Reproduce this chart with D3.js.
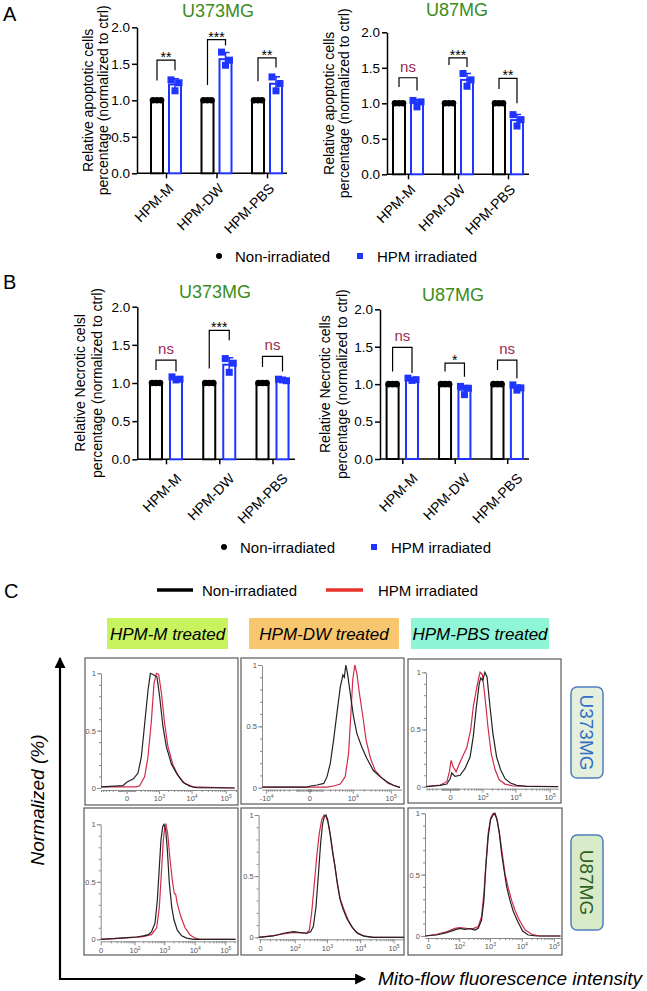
<!DOCTYPE html>
<html>
<head>
<meta charset="utf-8">
<script src="https://cdn.jsdelivr.net/npm/d3@7"></script>
<style>
  body { margin: 0; background: #fff; }
  svg { display: block; font-family: "Liberation Sans", Arial, Helvetica, sans-serif; }
</style>
</head>
<body>
<svg id="chart" width="647" height="991"></svg>
<script>
// ---- bar chart data (panels A and B) ----
const groups = ['HPM-M', 'HPM-DW', 'HPM-PBS'];
const barTicks = [0, 0.5, 1.0, 1.5, 2.0];

const ctrlPoints = [[1, 1, 1], [1, 1, 1], [1, 1, 1]];

const apoU373Hpm = [[1.28, 1.24, 1.13], [1.66, 1.55, 1.48], [1.32, 1.23, 1.13]];
const apoU373Sig = ['**', '***', '**'];
const apoU373Bracket = [[1.27, 1.55, 1.41], [1.21, 1.83, 1.75], [1.26, 1.58, 1.45]]; // left end, top, right end

const apoU87Hpm = [[1.04, 1.02, 0.95], [1.42, 1.33, 1.24], [0.84, 0.77, 0.68]];
const apoU87Sig = ['ns', '***', '**'];
const apoU87Bracket = [[1.23, 1.36, 1.18], [1.54, 1.64, 1.51], [1.20, 1.35, 1.00]];

const necU373Hpm = [[1.08, 1.05, 1.04], [1.32, 1.26, 1.14], [1.05, 1.03, 1.04]];
const necU373Sig = ['ns', '***', 'ns'];
const necU373Bracket = [[1.17, 1.30, 1.15], [1.19, 1.69, 1.56], [1.21, 1.35, 1.15]];

const necU87Hpm = [[1.08, 1.06, 1.05], [0.97, 0.945, 0.86], [0.99, 0.95, 0.92]];
const necU87Sig = ['ns', '*', 'ns'];
const necU87Bracket = [[1.17, 1.49, 1.15], [1.17, 1.28, 1.10], [1.19, 1.32, 1.08]];

// ---- flow histograms (panel C): [intensity, normalized count] ----
const treatments = ['HPM-M treated', 'HPM-DW treated', 'HPM-PBS treated'];
const cellLines = ['U373MG', 'U87MG'];
const ticksRow1 = [[0, 1e3, 1e4, 1e5], [-1e4, 0, 1e4, 1e5], [0, 1e3, 1e4, 1e5]];
const ticksRow2 = [0, 1e2, 1e3, 1e4, 1e5];

const u373M_ctrl = [[-580,0.01],[-37,0.02],[0,0.05],[74,0.08],[148,0.13],[217,0.27],[305,0.56],[413,0.85],[507,1.0],[633,0.99],[722,0.98],[858,0.97],[1055,0.80],[1363,0.53],[1730,0.36],[2480,0.21],[3540,0.13],[5570,0.05],[8800,0.015],[13900,0.003],[183000,0]];
const u373M_hpm = [[-580,0.01],[119,0.01],[181,0.02],[305,0.10],[413,0.27],[554,0.59],[683,0.91],[823,1.0],[985,0.99],[1206,0.83],[1535,0.56],[1945,0.36],[2780,0.20],[3930,0.11],[6230,0.04],[11000,0.01],[183000,0]];
const u373DW_ctrl = [[-12700,0.005],[-123,0.005],[51,0.014],[483,0.022],[1125,0.035],[1543,0.09],[2055,0.20],[2670,0.39],[3440,0.61],[4360,0.82],[5240,0.92],[5750,0.90],[6380,1.0],[7140,0.93],[8500,0.77],[10500,0.58],[13000,0.44],[17700,0.33],[23900,0.24],[35700,0.14],[53000,0.09],[78800,0.05],[116000,0.02],[173000,0.003]];
const u373DW_hpm = [[-12700,0.005],[1543,0.005],[2670,0.014],[4360,0.03],[6120,0.09],[7630,0.28],[8900,0.61],[10000,0.88],[11400,1.0],[13000,0.93],[15200,0.77],[18800,0.58],[22900,0.39],[29300,0.25],[39500,0.14],[58700,0.08],[87100,0.035],[129000,0.016],[173000,0.003]];
const u373PBS_ctrl = [[-514,0],[-123,0.012],[-32,0.023],[0,0.07],[15,0.12],[51,0.09],[123,0.10],[223,0.16],[363,0.26],[481,0.44],[623,0.70],[777,0.90],[874,0.95],[1015,0.93],[1196,1.0],[1400,0.96],[1690,0.73],[2120,0.47],[2760,0.26],[3630,0.15],[4960,0.07],[6970,0.035],[10900,0.012],[21500,0.003],[177600,0]];
const u373PBS_hpm = [[-514,0],[-123,0.015],[-32,0.044],[-6,0.13],[9,0.23],[32,0.17],[64,0.13],[111,0.20],[186,0.28],[265,0.34],[385,0.50],[481,0.70],[592,0.82],[717,0.93],[831,1.0],[990,0.98],[1196,0.79],[1500,0.52],[1892,0.29],[2480,0.15],[3320,0.06],[4960,0.023],[8700,0.006],[177600,0]];
const u87M_ctrl = [[0,0],[13.5,0.006],[51,0.015],[119,0.02],[200,0.03],[297,0.04],[383,0.067],[496,0.14],[593,0.34],[691,0.63],[780,0.86],[889,0.98],[984,1.0],[1122,0.95],[1267,0.78],[1470,0.49],[1768,0.28],[2091,0.17],[2686,0.08],[3740,0.03],[5480,0.01],[8950,0],[218000,0]];
const u87M_hpm = [[0,0],[51,0.012],[200,0.023],[383,0.043],[564,0.10],[691,0.28],[804,0.57],[935,0.86],[1056,0.99],[1144,1.0],[1300,0.92],[1547,0.70],[1836,0.52],[2134,0.40],[2380,0.39],[2686,0.31],[3485,0.20],[4810,0.10],[6970,0.04],[10200,0.01],[14900,0],[218000,0]];
const u87DW_ctrl = [[-1,0],[15,0.011],[40,0.033],[90,0.046],[148,0.038],[240,0.033],[318,0.046],[386,0.087],[465,0.25],[547,0.50],[644,0.77],[740,0.93],[838,0.99],[936,1.0],[1057,0.96],[1240,0.85],[1490,0.69],[1750,0.58],[2050,0.44],[2480,0.31],[2980,0.24],[3940,0.155],[5550,0.087],[7870,0.038],[12400,0.011],[24600,0],[205000,0]];
const u87DW_hpm = [[-1,0],[15,0.014],[40,0.027],[90,0.041],[148,0.038],[240,0.035],[290,0.06],[342,0.20],[414,0.44],[489,0.66],[587,0.85],[690,0.96],[813,1.0],[936,0.99],[1100,0.93],[1300,0.82],[1560,0.67],[1970,0.48],[2480,0.32],[3130,0.24],[4400,0.14],[6190,0.07],[8800,0.03],[13900,0.008],[24600,0],[205000,0]];
const u87PBS_ctrl = [[-3,0],[10,0.008],[33,0.027],[70,0.05],[105,0.062],[156,0.054],[229,0.060],[334,0.049],[427,0.062],[546,0.13],[648,0.29],[749,0.57],[888,0.81],[1056,0.95],[1282,0.99],[1446,1.0],[1632,0.96],[1980,0.84],[2340,0.67],[2784,0.54],[3372,0.40],[4284,0.29],[5436,0.20],[7428,0.12],[10656,0.04],[15912,0.008],[29280,0],[164000,0]];
const u87PBS_hpm = [[-3,0],[10,0.014],[33,0.035],[70,0.062],[105,0.068],[178,0.062],[294,0.060],[427,0.076],[546,0.16],[648,0.35],[749,0.59],[888,0.84],[1056,0.96],[1282,1.0],[1520,0.98],[1752,0.93],[2076,0.81],[2520,0.65],[2988,0.51],[3792,0.39],[4824,0.29],[6144,0.21],[8376,0.13],[12636,0.05],[20424,0.014],[37200,0],[164000,0]];

// ---- styles ----
const BLUE = '#1f35ff';
const GREEN = '#3a8c1c';
const NS_COL = '#9a2a4e';
const RED = '#d42a4a';

const svg = d3.select('#chart');

function label(x, y, s, o = {}) {
  return svg.append('text')
    .attr('x', x).attr('y', y)
    .attr('font-size', o.size || 13)
    .attr('fill', o.fill || '#000')
    .attr('text-anchor', o.anchor || 'start')
    .attr('font-style', o.italic ? 'italic' : null)
    .text(s);
}

// panel letters
label(3, 21, 'A', { size: 20 });
label(3, 289, 'B', { size: 20 });
label(4, 598, 'C', { size: 20 });

// ---- bar charts ----
const barCharts = [
  { title: 'U373MG', tx: 218, ty: 17, ax: 137, ae: 287, yt: 27.3, yb: 173.3, c: [166, 267], off: 9,
    hpm: apoU373Hpm, sig: apoU373Sig, br: apoU373Bracket,
    ylab: ['Relative apoptotic cells', 'percentage (normalized to ctrl)'], lx: [88, 103], lab: [1, 9] },
  { title: 'U87MG', tx: 457, ty: 15.5, ax: 387, ae: 529, yt: 32.3, yb: 174.3, c: [408, 508], off: 9,
    hpm: apoU87Hpm, sig: apoU87Sig, br: apoU87Bracket,
    ylab: ['Relative apoptotic cells', 'percentage (normalized to ctrl)'], lx: [329, 344], lab: [1, 9] },
  { title: 'U373MG', tx: 215, ty: 298, ax: 137.3, ae: 295, yt: 306.7, yb: 459.3, c: [166, 272.5], off: 10,
    hpm: necU373Hpm, sig: necU373Sig, br: necU373Bracket,
    ylab: ['Relative Necrotic celsl', 'percentage (normalized to ctrl)'], lx: [80, 97], lab: [9, 13] },
  { title: 'U87MG', tx: 453, ty: 301, ax: 380, ae: 529, yt: 309.3, yb: 459, c: [402.3, 507.2], off: 9.7,
    hpm: necU87Hpm, sig: necU87Sig, br: necU87Bracket,
    ylab: ['Relative Necrotic cells', 'percentage (normalized to ctrl)'], lx: [325, 342], lab: [9, 13] }
];

const bw = 12;

barCharts.forEach(cfg => {
  const y = d3.scaleLinear().domain([0, 2]).range([cfg.yb, cfg.yt]);
  const x = d3.scalePoint().domain(groups).range(cfg.c);
  const g = svg.append('g');

  label(cfg.tx, cfg.ty, cfg.title, { size: 18, fill: GREEN, anchor: 'middle' });

  // y axis
  g.append('g')
    .attr('transform', `translate(${cfg.ax},0)`)
    .call(d3.axisLeft(y).tickValues(barTicks).tickFormat(d3.format('.1f'))
      .tickSize(5).tickSizeOuter(0).tickPadding(2))
    .call(a => a.selectAll('text').attr('font-size', 13.5).attr('fill', '#000').attr('font-family', null))
    .call(a => a.selectAll('line, path').attr('stroke', '#000').attr('stroke-width', 1.5));

  // x axis (ticks only, baseline drawn by hand to match the axis extent)
  const xa = g.append('g')
    .attr('transform', `translate(0,${cfg.yb})`)
    .call(d3.axisBottom(x).tickSize(5).tickSizeOuter(0).tickFormat(''));
  xa.select('.domain').remove();
  xa.selectAll('line').attr('stroke', '#000').attr('stroke-width', 1.5);
  g.append('line')
    .attr('x1', cfg.ax).attr('x2', cfg.ae).attr('y1', cfg.yb).attr('y2', cfg.yb)
    .attr('stroke', '#000').attr('stroke-width', 1.5);

  g.selectAll('.xlab').data(groups).join('text')
    .attr('class', 'xlab')
    .attr('transform', d => `translate(${x(d) + cfg.lab[0]},${cfg.yb + cfg.lab[1]}) rotate(-45)`)
    .attr('text-anchor', 'end').attr('dy', '0.72em')
    .attr('font-size', 14)
    .text(d => d);

  // y label
  const ym = (cfg.yt + cfg.yb) / 2;
  cfg.ylab.forEach((t, i) => {
    g.append('text')
      .attr('transform', `translate(${cfg.lx[i]},${ym}) rotate(-90)`)
      .attr('text-anchor', 'middle').attr('dy', '0.35em')
      .attr('font-size', 14)
      .text(t);
  });

  // bars
  groups.forEach((grp, i) => {
    const cx0 = x(grp) - cfg.off;
    const cx1 = x(grp) + cfg.off;
    const m0 = d3.mean(ctrlPoints[i]);
    const m1 = d3.mean(cfg.hpm[i]);
    const sd1 = d3.deviation(cfg.hpm[i]);

    g.append('rect')
      .attr('x', cx0 - bw / 2).attr('y', y(m0))
      .attr('width', bw).attr('height', y(0) - y(m0))
      .attr('fill', '#fff').attr('stroke', '#000').attr('stroke-width', 2);
    g.append('rect')
      .attr('x', cx1 - bw / 2).attr('y', y(m1))
      .attr('width', bw).attr('height', y(0) - y(m1))
      .attr('fill', '#fff').attr('stroke', BLUE).attr('stroke-width', 2);

    // SD error bar
    g.append('path')
      .attr('d', `M${cx1},${y(m1 - sd1)}V${y(m1 + sd1)}M${cx1 - 4},${y(m1 + sd1)}H${cx1 + 4}`)
      .attr('stroke', BLUE).attr('stroke-width', 1.5).attr('fill', 'none');

    // points
    const dotOff = [-4, 0, 4];
    g.selectAll(null).data(ctrlPoints[i]).join('circle')
      .attr('cx', (d, k) => cx0 + dotOff[k]).attr('cy', d => y(d))
      .attr('r', 3.3).attr('fill', '#000');
    const sqOff = [-4, 4, 0];
    g.selectAll(null).data(cfg.hpm[i]).join('rect')
      .attr('x', (d, k) => cx1 + sqOff[k] - 3.5).attr('y', d => y(d) - 3.5)
      .attr('width', 7).attr('height', 7).attr('fill', BLUE);

    // significance bracket
    const [l, top, r] = cfg.br[i];
    g.append('path')
      .attr('d', `M${cx0},${y(l)}V${y(top)}H${cx1}V${y(r)}`)
      .attr('fill', 'none').attr('stroke', '#000').attr('stroke-width', 1.2);
    const s = cfg.sig[i];
    if (s === 'ns') {
      label(x(grp), y(top) - 6, s, { size: 15, fill: NS_COL, anchor: 'middle' });
    } else {
      label(x(grp), y(top) + 2, s, { size: 14, anchor: 'middle' });
    }
  });
});

// bar chart legends
function dotLegend(yy, xd, xs) {
  svg.append('circle').attr('cx', xd).attr('cy', yy).attr('r', 3).attr('fill', '#000');
  label(xd + 16, yy + 5.5, 'Non-irradiated', { size: 15 });
  svg.append('rect').attr('x', xs - 3).attr('y', yy - 3).attr('width', 6).attr('height', 6).attr('fill', BLUE);
  label(xs + 17, yy + 5.5, 'HPM irradiated', { size: 15 });
}
dotLegend(256, 219, 360);
dotLegend(547, 224, 374);

// ---- panel C ----
svg.append('line').attr('x1', 157).attr('x2', 193).attr('y1', 590).attr('y2', 590)
  .attr('stroke', '#000').attr('stroke-width', 3.5);
label(202, 595.5, 'Non-irradiated', { size: 15 });
svg.append('line').attr('x1', 326).attr('x2', 363).attr('y1', 590).attr('y2', 590)
  .attr('stroke', '#e8322b').attr('stroke-width', 3.5);
label(378, 595.5, 'HPM irradiated', { size: 15 });

const headBoxes = [
  { x: 107, w: 121, fill: '#c8f35e' },
  { x: 249, w: 150, fill: '#f7c66e' },
  { x: 411, w: 138, fill: '#8ef5d6' }
];
treatments.forEach((t, i) => {
  const b = headBoxes[i];
  svg.append('rect').attr('x', b.x).attr('y', 618).attr('width', b.w).attr('height', 31).attr('fill', b.fill);
  label(b.x + b.w / 2, 639.5, t, { size: 17, italic: true, anchor: 'middle' });
});

// side labels for cell lines
const sideBoxes = [
  { y: 687, h: 91, fill: '#e4f0dc', text: '#2f6fc6' },
  { y: 835, h: 95, fill: '#d8ebc8', text: '#2d5e1e' }
];
cellLines.forEach((c, i) => {
  const b = sideBoxes[i];
  svg.append('rect').attr('x', 571).attr('y', b.y).attr('width', 32).attr('height', b.h)
    .attr('rx', 6).attr('fill', b.fill).attr('stroke', '#4f7fbf').attr('stroke-width', 1.5);
  svg.append('text')
    .attr('transform', `translate(587,${b.y + b.h / 2}) rotate(90)`)
    .attr('text-anchor', 'middle').attr('dy', '0.35em')
    .attr('font-size', 19).attr('fill', b.text)
    .text(c);
});

const flowPanels = [
  { frame: [85, 658, 153, 147], xr: [101, 236], c: 130, dom: [-600, 200000], y0: 788, y1: 673.3,
    ticks: ticksRow1[0], ctrl: u373M_ctrl, hpm: u373M_hpm },
  { frame: [241, 658, 163, 146], xr: [262, 401.5], c: 850, dom: [-13000, 190000], y0: 787.7, y1: 665,
    ticks: ticksRow1[1], ctrl: u373DW_ctrl, hpm: u373DW_hpm },
  { frame: [408, 659, 153, 144], xr: [426, 558.3], c: 130, dom: [-520, 178000], y0: 786.7, y1: 672.3,
    ticks: ticksRow1[2], ctrl: u373PBS_ctrl, hpm: u373PBS_hpm },
  { frame: [84, 808, 154, 147], xr: [100.7, 235.7], c: 8.5, dom: [0, 218000], y0: 939.3, y1: 824.3,
    ticks: ticksRow2, ctrl: u87M_ctrl, hpm: u87M_hpm },
  { frame: [241, 808, 163, 147], xr: [258.6, 404], c: 10, dom: [-1, 205000], y0: 937.3, y1: 815,
    ticks: ticksRow2, ctrl: u87DW_ctrl, hpm: u87DW_hpm },
  { frame: [408, 808, 154, 147], xr: [425, 560.7], c: 12, dom: [-3, 164000], y0: 936, y1: 813.3,
    ticks: ticksRow2, ctrl: u87PBS_ctrl, hpm: u87PBS_hpm }
];

const defs = svg.append('defs');

flowPanels.forEach((p, i) => {
  const g = svg.append('g');
  const [fx, fy, fw, fh] = p.frame;
  g.append('rect').attr('x', fx).attr('y', fy).attr('width', fw).attr('height', fh)
    .attr('fill', '#fff').attr('stroke', '#5a5a5a').attr('stroke-width', 1.2);

  const x = d3.scaleSymlog().constant(p.c).domain(p.dom).range(p.xr);
  const y = d3.scaleLinear().domain([0, 1]).range([p.y0, p.y1]);
  const axCol = '#8a8a8a';

  // y axis: minor + major ticks
  const yMinor = d3.range(0, 1.0001, 0.1);
  g.append('g').attr('transform', `translate(${p.xr[0]},0)`)
    .call(d3.axisLeft(y).tickValues(yMinor).tickSize(2).tickSizeOuter(0).tickFormat(''))
    .call(a => a.selectAll('line, path').attr('stroke', axCol));
  g.append('g').attr('transform', `translate(${p.xr[0]},0)`)
    .call(d3.axisLeft(y).tickValues([0, 0.5, 1]).tickSize(4).tickSizeOuter(0).tickPadding(1)
      .tickFormat(d => d === 0.5 ? '0.5' : String(d)))
    .call(a => a.select('.domain').remove())
    .call(a => a.selectAll('line').attr('stroke', axCol))
    .call(a => a.selectAll('text').attr('font-size', 7.5).attr('fill', '#555').attr('font-family', null));

  // x axis
  const xMinor = [];
  for (let k = 1; k <= 5; k++) {
    for (let m = 1; m <= 9; m++) {
      const v = m * Math.pow(10, k);
      if (v <= p.dom[1]) xMinor.push(v);
      if (-v >= p.dom[0]) xMinor.push(-v);
    }
  }
  const xy = p.y0 + 2;
  g.append('g').attr('transform', `translate(0,${xy})`)
    .call(d3.axisBottom(x).tickValues(xMinor.filter(v => !p.ticks.includes(v))).tickSize(2).tickSizeOuter(0).tickFormat(''))
    .call(a => a.selectAll('line, path').attr('stroke', axCol));
  g.append('g').attr('transform', `translate(0,${xy})`)
    .call(d3.axisBottom(x).tickValues(p.ticks).tickSize(4).tickSizeOuter(0).tickPadding(2).tickFormat(''))
    .call(a => a.select('.domain').remove())
    .call(a => a.selectAll('line').attr('stroke', axCol))
    .call(a => a.selectAll('.tick text').attr('font-size', 7.5).attr('fill', '#555').attr('font-family', null)
      .each(function (d) {
        const t = d3.select(this);
        if (d === 0) { t.text('0'); return; }
        const e = Math.round(Math.log10(Math.abs(d)));
        t.append('tspan').text((d < 0 ? '-' : '') + '10');
        t.append('tspan').attr('dy', -3).attr('font-size', 5).text(e);
      }));

  // curves
  const clipId = 'clip' + i;
  defs.append('clipPath').attr('id', clipId).append('rect')
    .attr('x', p.xr[0]).attr('y', p.y1 - 6).attr('width', p.xr[1] - p.xr[0]).attr('height', p.y0 - p.y1 + 7);
  const line = d3.line().x(d => x(d[0])).y(d => y(d[1]));
  const cg = g.append('g').attr('clip-path', `url(#${clipId})`);
  cg.append('path').datum(p.hpm).attr('d', line)
    .attr('fill', 'none').attr('stroke', RED).attr('stroke-width', 1.2);
  cg.append('path').datum(p.ctrl).attr('d', line)
    .attr('fill', 'none').attr('stroke', '#222').attr('stroke-width', 1.2);
});

// big axis arrows for panel C
defs.append('marker').attr('id', 'arrow').attr('viewBox', '0 0 10 10')
  .attr('refX', 9).attr('refY', 5).attr('markerWidth', 5).attr('markerHeight', 5)
  .attr('orient', 'auto')
  .append('path').attr('d', 'M0,0L10,5L0,10Z').attr('fill', '#000');
svg.append('path').attr('d', 'M60,980V658').attr('stroke', '#000').attr('stroke-width', 2.2)
  .attr('fill', 'none').attr('marker-end', 'url(#arrow)');
svg.append('path').attr('d', 'M59,979H365').attr('stroke', '#000').attr('stroke-width', 2.2)
  .attr('fill', 'none').attr('marker-end', 'url(#arrow)');

svg.append('text')
  .attr('transform', 'translate(37,800) rotate(-90)')
  .attr('text-anchor', 'middle').attr('dy', '0.35em')
  .attr('font-size', 19).attr('font-style', 'italic')
  .text('Normalized (%)');
label(378, 985, 'Mito-flow fluorescence intensity', { size: 19, italic: true });
</script>
</body>
</html>
